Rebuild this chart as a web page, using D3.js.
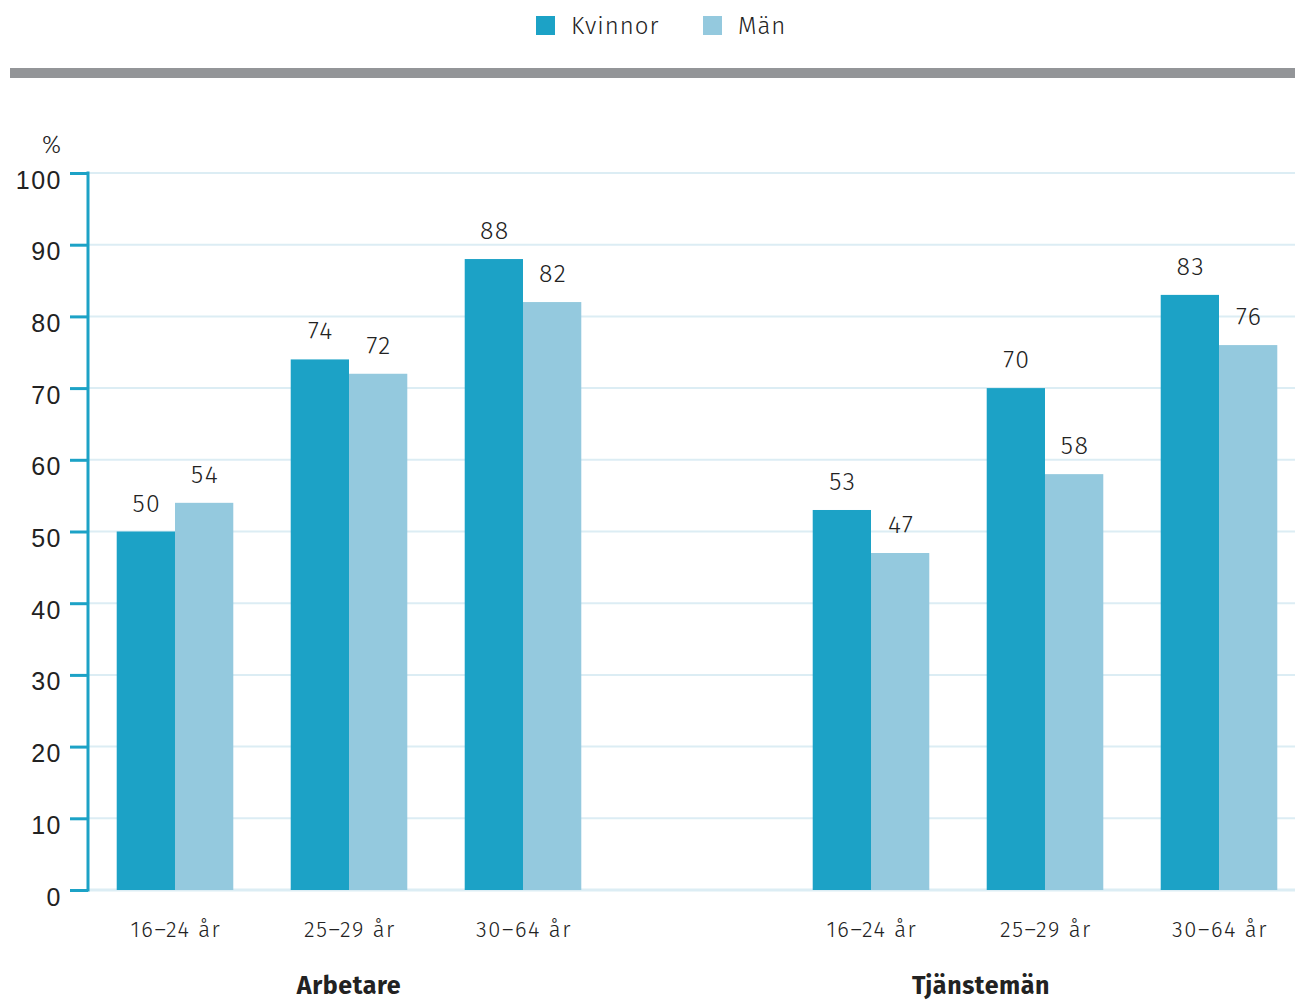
<!DOCTYPE html>
<html>
<head>
<meta charset="utf-8">
<script src="https://cdn.jsdelivr.net/npm/d3@7"></script>
<style>
  body { margin: 0; background: #fff; }
  svg { display: block; font-family: "Fira Sans", "Noto Sans", "Open Sans", sans-serif; font-weight: 300; }
</style>
</head>
<body>
<section></section>
<script>
const groups = ["Arbetare", "Tjänstemän"];
const ageLabels = ["16–24 år", "25–29 år", "30–64 år"];
const seriesNames = ["Kvinnor", "Män"];
const kvinnor = [50, 74, 88, 53, 70, 83];
const man = [54, 72, 82, 47, 58, 76];
const yTicks = [0, 10, 20, 30, 40, 50, 60, 70, 80, 90, 100];

const colors = ["#1ca2c6", "#94c9de"];

const width = 1295;
const height = 1000;
const marginLeft = 88;
const marginTop = 173;
const marginBottom = 110;

// slots: 3 per group with an empty slot between the groups
const slots = ["A0", "A1", "A2", "gap", "T0", "T1", "T2"];
const data = [];
groups.forEach((g, gi) => {
    ageLabels.forEach((a, ai) => {
        const i = gi * 3 + ai;
        data.push({ slot: slots[gi * 4 + ai], group: g, age: a, values: [kvinnor[i], man[i]] });
    });
});

const x = d3.scaleBand()
    .domain(slots)
    .range([marginLeft, marginLeft + 7 * 174])
    .paddingInner(0.33)
    .paddingOuter(0.165);

const xs = d3.scaleBand()
    .domain(seriesNames)
    .range([0, x.bandwidth()]);

const y = d3.scaleLinear()
    .domain([0, 100])
    .range([height - marginBottom, marginTop]);

const svg = d3.select("section")
    .append("svg")
    .attr("width", width)
    .attr("height", height)
    .attr("viewBox", [0, 0, width, height]);

// legend
const legend = svg.append("g");
const legendX = [536, 703];
seriesNames.forEach((s, i) => {
    legend.append("rect")
        .attr("x", legendX[i]).attr("y", 16)
        .attr("width", 19).attr("height", 19)
        .attr("fill", colors[i]);
    legend.append("text")
        .attr("x", legendX[i] + 35).attr("y", 26)
        .attr("dy", "0.35em")
        .attr("font-size", 24)
        .attr("letter-spacing", 1)
        .attr("fill", "#222")
        .text(s);
});

// gray band
svg.append("rect")
    .attr("x", 10).attr("y", 68)
    .attr("width", width - 10).attr("height", 10)
    .attr("fill", "#939598");

// gridlines
svg.append("g")
    .selectAll("line")
    .data(yTicks)
    .join("line")
    .attr("x1", marginLeft).attr("x2", width)
    .attr("y1", d => y(d)).attr("y2", d => y(d))
    .attr("stroke", "#dcedf4")
    .attr("stroke-width", d => d === 0 ? 3 : 2);

// bars
const bar = svg.append("g")
    .selectAll("g")
    .data(data)
    .join("g")
    .attr("transform", d => `translate(${x(d.slot)},0)`);

bar.selectAll("rect")
    .data(d => d.values.map((v, i) => ({ key: seriesNames[i], v, i })))
    .join("rect")
    .attr("x", d => xs(d.key))
    .attr("y", d => y(d.v))
    .attr("width", xs.bandwidth())
    .attr("height", d => y(0) - y(d.v))
    .attr("fill", d => colors[d.i]);

bar.selectAll("text.val")
    .data(d => d.values.map((v, i) => ({ key: seriesNames[i], v, i })))
    .join("text")
    .attr("class", "val")
    .attr("x", d => xs(d.key) + xs.bandwidth() / 2 + 1)
    .attr("y", d => y(d.v) - 20)
    .attr("text-anchor", "middle")
    .attr("font-size", 25)
    .attr("letter-spacing", 1.5)
    .attr("fill", "#222")
    .text(d => d.v);

// category labels
bar.append("text")
    .attr("x", x.bandwidth() / 2 + 1)
    .attr("y", 929)
    .attr("dy", "0.35em")
    .attr("text-anchor", "middle")
    .attr("font-size", 22)
    .attr("letter-spacing", 1.6)
    .attr("fill", "#222")
    .text(d => d.age);

// group labels
const groupX = [x("A1") + x.bandwidth() / 2, x("T1") + x.bandwidth() / 2 - 64];
svg.append("g")
    .selectAll("text")
    .data(groups)
    .join("text")
    .attr("x", (d, i) => groupX[i])
    .attr("y", 985)
    .attr("dy", "0.35em")
    .attr("text-anchor", "middle")
    .attr("font-size", 25)
    .attr("letter-spacing", 0.6)
    .attr("font-weight", "bold")
    .attr("fill", "#222")
    .text(d => d);

// y axis
const yAxis = svg.append("g")
    .attr("transform", `translate(${marginLeft},0)`)
    .call(d3.axisLeft(y).tickValues(yTicks).tickSize(18).tickPadding(8));
yAxis.select(".domain")
    .attr("d", `M0,${y(100) - 1.5}V${y(0) + 1.5}`)
    .attr("stroke", colors[0])
    .attr("stroke-width", 3);
yAxis.selectAll(".tick line")
    .attr("stroke", colors[0])
    .attr("stroke-width", 3);
yAxis.selectAll(".tick text")
    .attr("font-size", 25)
    .attr("font-family", "inherit")
    .attr("letter-spacing", 1.5)
    .attr("dy", "0.6em")
    .attr("fill", "#222");

svg.append("text")
    .attr("x", 61).attr("y", 145)
    .attr("dy", "0.35em")
    .attr("text-anchor", "end")
    .attr("font-size", 24)
    .attr("fill", "#222")
    .text("%");
</script>
</body>
</html>
